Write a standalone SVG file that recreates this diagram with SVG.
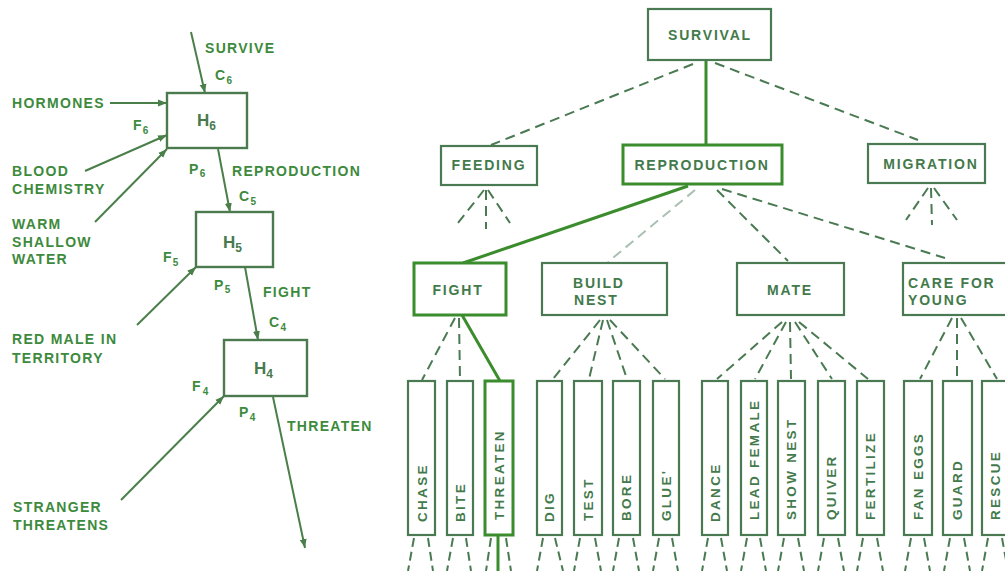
<svg xmlns="http://www.w3.org/2000/svg" width="1005" height="571" viewBox="0 0 1005 571">
<style>
  .lt { font-family: "Liberation Sans", Arial, sans-serif; font-weight: bold; font-size: 14px; letter-spacing: 1.3px; fill: #3d8a3d; }
  .sub { font-size: 10px; letter-spacing: 0; }
  .hl-lbl { font-family: "Liberation Sans", Arial, sans-serif; font-weight: bold; font-size: 17px; fill: #487a4e; }
  .arr { stroke: #4a7f4a; stroke-width: 2; fill: none; marker-end: url(#ah); }
  .hbox { fill: #fff; stroke: #4a7a4e; stroke-width: 2.4; }
  .node { fill: #fff; stroke: #4a7a52; stroke-width: 2.2; }
  .node.hl { stroke: #3a8c2c; stroke-width: 3; }
  .nt { font-family: "Liberation Sans", Arial, sans-serif; font-weight: bold; font-size: 14px; letter-spacing: 1.8px; fill: #437a4b; text-anchor: middle; }
  .nt.s { text-anchor: start; }
  .vt { font-family: "Liberation Sans", Arial, sans-serif; font-weight: bold; font-size: 13.5px; letter-spacing: 2.3px; fill: #437a4b; }
  .sol { stroke: #3a8c2c; stroke-width: 3; fill: none; }
  .dsh { stroke: #4a7a52; stroke-width: 2; stroke-dasharray: 10 6; fill: none; }
  .lite { stroke: #a9c0b2; }
  .sd { stroke: #4a7a52; stroke-width: 2; stroke-dasharray: 9 5; fill: none; }
</style>
<defs>
  <marker id="ah" markerUnits="userSpaceOnUse" markerWidth="10" markerHeight="8" refX="9" refY="4" orient="auto">
    <path d="M0,0.5 L9,4 L0,7.5 Z" fill="#4a7f4a"/>
  </marker>
</defs>
<rect width="1005" height="571" fill="#fff"/>

<!-- LEFT: hierarchy of control units -->
<g id="left-connectors">
  <line class="arr" x1="191" y1="32" x2="205" y2="93"/>
  <line class="arr" x1="110" y1="103" x2="167" y2="103"/>
  <line class="arr" x1="85" y1="171" x2="167" y2="135"/>
  <line class="arr" x1="95" y1="222" x2="167" y2="149"/>
  <line class="arr" x1="218" y1="149" x2="230" y2="212"/>
  <line class="arr" x1="137" y1="325" x2="196" y2="267"/>
  <line class="arr" x1="245" y1="267" x2="258" y2="340"/>
  <line class="arr" x1="121" y1="500" x2="224" y2="396"/>
  <line class="arr" x1="273" y1="397" x2="305" y2="548"/>
</g>
<g id="left-labels">
  <text class="lt" x="205" y="53">SURVIVE</text>
  <text class="lt" x="215" y="80">C<tspan class="sub" dy="4">6</tspan></text>
  <text class="lt" x="12" y="108">HORMONES</text>
  <text class="lt" x="133" y="130">F<tspan class="sub" dy="4">6</tspan></text>
  <text class="lt" x="12" y="176">BLOOD</text>
  <text class="lt" x="12" y="194">CHEMISTRY</text>
  <text class="lt" x="12" y="229">WARM</text>
  <text class="lt" x="12" y="247">SHALLOW</text>
  <text class="lt" x="12" y="264">WATER</text>
  <text class="lt" x="189" y="174">P<tspan class="sub" dy="3">6</tspan></text>
  <text class="lt" x="232" y="176">REPRODUCTION</text>
  <text class="lt" x="239" y="201">C<tspan class="sub" dy="4">5</tspan></text>
  <text class="lt" x="163" y="262">F<tspan class="sub" dy="4">5</tspan></text>
  <text class="lt" x="214" y="290">P<tspan class="sub" dy="3">5</tspan></text>
  <text class="lt" x="263" y="297">FIGHT</text>
  <text class="lt" x="12" y="344">RED MALE IN</text>
  <text class="lt" x="12" y="363">TERRITORY</text>
  <text class="lt" x="269" y="327">C<tspan class="sub" dy="4">4</tspan></text>
  <text class="lt" x="192" y="391">F<tspan class="sub" dx="1" dy="4">4</tspan></text>
  <text class="lt" x="239" y="417">P<tspan class="sub" dy="4">4</tspan></text>
  <text class="lt" x="287" y="431">THREATEN</text>
  <text class="lt" x="13" y="512">STRANGER</text>
  <text class="lt" x="13" y="530">THREATENS</text>
</g>
<g id="H6">
  <rect class="hbox" x="167" y="93" width="80" height="55"/>
  <text class="hl-lbl" x="197" y="126">H<tspan font-size="12" dy="4">6</tspan></text>
</g>
<g id="H5">
  <rect class="hbox" x="196" y="212" width="77" height="55"/>
  <text class="hl-lbl" x="223" y="248">H<tspan font-size="12" dy="4">5</tspan></text>
</g>
<g id="H4">
  <rect class="hbox" x="224" y="340" width="83" height="56"/>
  <text class="hl-lbl" x="254" y="374">H<tspan font-size="12" dy="4">4</tspan></text>
</g>

<!-- RIGHT: goal tree -->
<g id="connectors">
  <line class="sol" x1="706" y1="60" x2="706" y2="145"/>
  <line class="dsh" x1="693" y1="64" x2="491" y2="145"/>
  <line class="dsh" x1="715" y1="63" x2="918" y2="140"/>
  <line class="dsh" x1="484" y1="190" x2="458" y2="223"/>
  <line class="dsh" x1="486" y1="190" x2="486" y2="229"/>
  <line class="dsh" x1="488" y1="190" x2="510" y2="223"/>
  <line class="dsh" x1="928" y1="188" x2="906" y2="220"/>
  <line class="dsh" x1="931" y1="188" x2="932" y2="225"/>
  <line class="dsh" x1="934" y1="188" x2="957" y2="220"/>
  <line class="sol" x1="688" y1="186" x2="463" y2="263"/>
  <line class="dsh lite" x1="695" y1="190" x2="608" y2="262"/>
  <line class="dsh" x1="717" y1="190" x2="788" y2="261"/>
  <line class="dsh" x1="722" y1="189" x2="945" y2="258"/>
  <line class="dsh" x1="455" y1="318" x2="422" y2="380"/>
  <line class="dsh" x1="459" y1="318" x2="460" y2="380"/>
  <line class="sol" x1="462" y1="315" x2="500" y2="381"/>
  <line class="dsh" x1="600" y1="320" x2="553" y2="379"/>
  <line class="dsh" x1="603" y1="320" x2="589" y2="379"/>
  <line class="dsh" x1="607" y1="320" x2="627" y2="379"/>
  <line class="dsh" x1="610" y1="320" x2="665" y2="379"/>
  <line class="dsh" x1="782" y1="322" x2="717" y2="379"/>
  <line class="dsh" x1="786" y1="322" x2="755" y2="379"/>
  <line class="dsh" x1="790" y1="322" x2="791" y2="379"/>
  <line class="dsh" x1="795" y1="322" x2="832" y2="379"/>
  <line class="dsh" x1="799" y1="322" x2="868" y2="379"/>
  <line class="dsh" x1="952" y1="318" x2="920" y2="379"/>
  <line class="dsh" x1="957" y1="318" x2="957" y2="379"/>
  <line class="dsh" x1="961" y1="318" x2="997" y2="379"/>
  <!-- leaf bottoms -->
  <path class="sd" d="M414,538 L408,571 M428,538 L433,571
    M453,538 L447,571 M466,538 L471,571
    M491,538 L486,571 M506,538 L511,571
    M543,538 L537,571 M555,538 L563,571
    M580,538 L574,571 M595,538 L601,571
    M619,538 L613,571 M633,538 L639,571
    M659,538 L653,571 M672,538 L678,571
    M708,538 L702,571 M721,538 L727,571
    M747,538 L741,571 M760,538 L766,571
    M784,538 L778,571 M798,538 L804,571
    M824,538 L818,571 M838,538 L844,571
    M863,538 L857,571 M877,538 L883,571
    M911,538 L905,571 M924,538 L930,571
    M950,538 L944,571 M964,538 L970,571
    M988,538 L982,571 M1002,538 L1008,571"/>
  <line class="sol" x1="498" y1="535" x2="498" y2="571"/>
</g>

<g id="n-survival"><rect class="node" x="648" y="9" width="123" height="51"/><text class="nt" x="710" y="40">SURVIVAL</text></g>
<g id="n-feeding"><rect class="node" x="441" y="146" width="96" height="39"/><text class="nt" x="489" y="170">FEEDING</text></g>
<g id="n-reproduction"><rect class="node hl" x="623" y="145" width="159" height="39"/><text class="nt" x="702" y="170">REPRODUCTION</text></g>
<g id="n-migration"><rect class="node" x="868" y="144" width="117" height="39"/><text class="nt" x="931" y="169">MIGRATION</text></g>
<g id="n-fight"><rect class="node hl" x="414" y="263" width="92" height="52"/><text class="nt" x="458" y="295">FIGHT</text></g>
<g id="n-buildnest"><rect class="node" x="542" y="263" width="125" height="52"/><text class="nt s" x="573" y="288">BUILD</text><text class="nt s" x="574" y="305">NEST</text></g>
<g id="n-mate"><rect class="node" x="737" y="263" width="107" height="52"/><text class="nt" x="790" y="295">MATE</text></g>
<g id="n-care"><rect class="node" x="903" y="263" width="110" height="52"/><text class="nt s" x="908" y="288">CARE FOR</text><text class="nt s" x="908" y="305">YOUNG</text></g>

<g id="leaf-chase"><rect class="node" x="408" y="381" width="27" height="154"/><text class="vt" transform="translate(427,522) rotate(-90)">CHASE</text></g>
<g id="leaf-bite"><rect class="node" x="447" y="381" width="26" height="154"/><text class="vt" transform="translate(465,522) rotate(-90)">BITE</text></g>
<g id="leaf-threaten"><rect class="node hl" x="485" y="381" width="28" height="154"/><text class="vt" transform="translate(504,520) rotate(-90)">THREATEN</text></g>
<g id="leaf-dig"><rect class="node" x="537" y="381" width="25" height="154"/><text class="vt" transform="translate(554,522) rotate(-90)">DIG</text></g>
<g id="leaf-test"><rect class="node" x="574" y="381" width="28" height="154"/><text class="vt" transform="translate(593,521) rotate(-90)">TEST</text></g>
<g id="leaf-bore"><rect class="node" x="613" y="381" width="27" height="154"/><text class="vt" transform="translate(631,521) rotate(-90)">BORE</text></g>
<g id="leaf-glue"><rect class="node" x="653" y="381" width="26" height="154"/><text class="vt" transform="translate(671,521) rotate(-90)">GLUE'</text></g>
<g id="leaf-dance"><rect class="node" x="702" y="381" width="26" height="154"/><text class="vt" transform="translate(720,522) rotate(-90)">DANCE</text></g>
<g id="leaf-lead"><rect class="node" x="741" y="381" width="26" height="154"/><text class="vt" transform="translate(759,520) rotate(-90)">LEAD FEMALE</text></g>
<g id="leaf-show"><rect class="node" x="778" y="381" width="27" height="154"/><text class="vt" transform="translate(796,520) rotate(-90)">SHOW NEST</text></g>
<g id="leaf-quiver"><rect class="node" x="818" y="381" width="27" height="154"/><text class="vt" transform="translate(836,520) rotate(-90)">QUIVER</text></g>
<g id="leaf-fertilize"><rect class="node" x="857" y="381" width="27" height="154"/><text class="vt" transform="translate(875,520) rotate(-90)">FERTILIZE</text></g>
<g id="leaf-faneggs"><rect class="node" x="904" y="381" width="28" height="154"/><text class="vt" transform="translate(923,520) rotate(-90)">FAN EGGS</text></g>
<g id="leaf-guard"><rect class="node" x="943" y="381" width="29" height="154"/><text class="vt" transform="translate(962,520) rotate(-90)">GUARD</text></g>
<g id="leaf-rescue"><rect class="node" x="982" y="381" width="30" height="154"/><text class="vt" transform="translate(1000,520) rotate(-90)">RESCUE</text></g>
</svg>
